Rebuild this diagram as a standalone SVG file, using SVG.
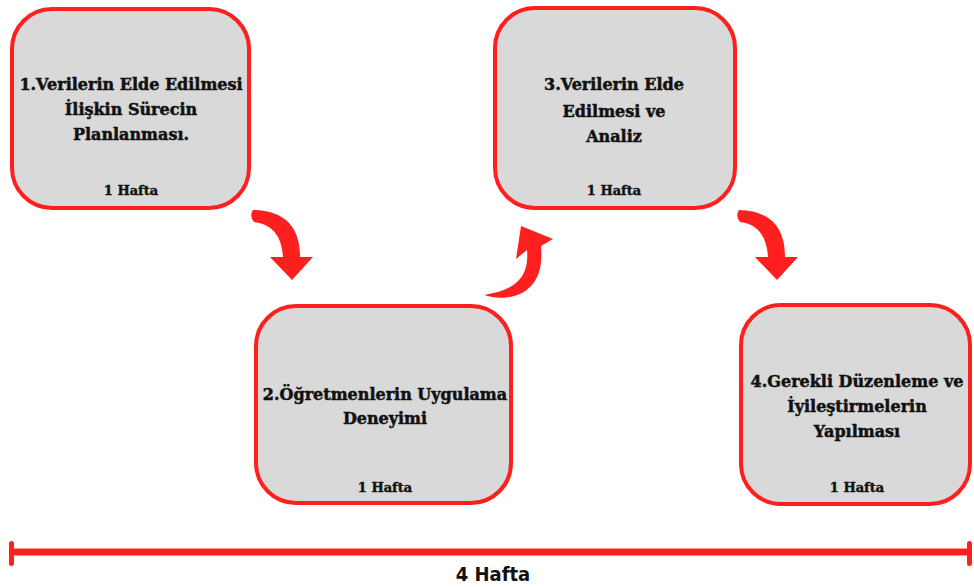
<svg xmlns="http://www.w3.org/2000/svg" width="974" height="587" viewBox="0 0 974 587">
<style>
.box{fill:#d9d9d9;stroke:#ff1f1f;stroke-width:4}
.t{font-family:"DejaVu Serif","Liberation Serif",serif;font-weight:bold;font-size:16px;fill:#111;text-anchor:middle;stroke:#111;stroke-width:0.5}
.h{font-family:"DejaVu Serif","Liberation Serif",serif;font-weight:bold;font-size:13px;fill:#111;text-anchor:middle;stroke:#111;stroke-width:0.4}
.arr{fill:#ff1f1f}
</style>
<rect width="974" height="587" fill="#fff"/>
<g id="node1">
<rect class="box" x="12" y="9" width="237" height="199" rx="40"/>
<text class="t" x="131" y="90">1.Verilerin Elde Edilmesi</text>
<text class="t" x="131" y="115">İlişkin Sürecin</text>
<text class="t" x="131" y="140">Planlanması.</text>
<text class="h" x="131" y="195">1 Hafta</text>
</g>
<g id="node2">
<rect class="box" x="256" y="306" width="255" height="197" rx="40"/>
<text class="t" x="385" y="400">2.Öğretmenlerin Uygulama</text>
<text class="t" x="385" y="424">Deneyimi</text>
<text class="h" x="385" y="492">1 Hafta</text>
</g>
<g id="node3">
<rect class="box" x="495" y="8" width="240" height="200" rx="40"/>
<text class="t" x="614" y="90">3.Verilerin Elde</text>
<text class="t" x="614" y="117">Edilmesi ve</text>
<text class="t" x="614" y="142">Analiz</text>
<text class="h" x="614" y="195">1 Hafta</text>
</g>
<g id="node4">
<rect class="box" x="741" y="305" width="229" height="199" rx="40"/>
<text class="t" x="857" y="387">4.Gerekli Düzenleme ve</text>
<text class="t" x="857" y="412">İyileştirmelerin</text>
<text class="t" x="857" y="437">Yapılması</text>
<text class="h" x="857" y="492">1 Hafta</text>
</g>
<g id="connectors">
<path class="arr" d="M253,210 Q300,211 300,257 L313,257 L292,280 L270,257 L283,257 Q281,225 254,222 Q249,216 253,210 Z"/>
<path class="arr" d="M739,210 Q785,211 785,257 L798,257 L777,280 L755,257 L768,257 Q766,225 740,222 Q735,216 739,210 Z"/>
<path class="arr" d="M484,295 C506,302 546,298 541,246 L553,239 L521,226 L516,259 L527,250 C530,281 510,291 484,295 Z"/>
</g>
<g id="timeline">
<line x1="12" y1="552" x2="970" y2="552" stroke="#ff1f1f" stroke-width="7"/>
<rect x="9" y="541" width="5" height="25" rx="2.5" fill="#ff1f1f"/>
<rect x="967" y="541" width="5" height="25" rx="2.5" fill="#ff1f1f"/>
<text x="493" y="581" font-family="'DejaVu Sans','Liberation Sans',sans-serif" font-stretch="condensed" font-weight="bold" font-size="20" fill="#111" text-anchor="middle">4 Hafta</text>
</g>
</svg>
